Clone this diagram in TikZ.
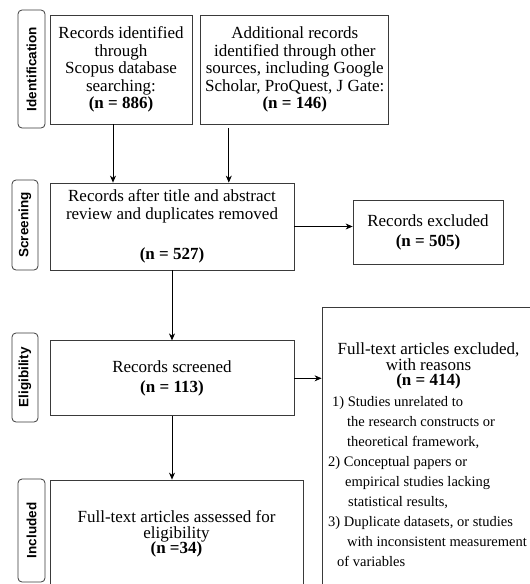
\documentclass[tikz,border=0pt]{standalone}
\usepackage{fontspec}
\setmainfont{Liberation Serif}
\newfontfamily\phasefamily{Liberation Sans}
\usetikzlibrary{arrows.meta, positioning, calc}
\definecolor{Black80}{HTML}{3A3A3A}

\begin{document}
\begin{tikzpicture}[x=1pt, y=-1pt,
    box/.style={
        draw=Black80, line width=0.8pt, align=center, inner sep=0pt,
        font=\fontsize{17}{17.5}\selectfont
    },
    phase/.style={
        draw=Black80, line width=0.8pt, rounded corners=4pt, rotate=90,
        inner sep=0pt, font=\phasefamily\bfseries\fontsize{13.5}{15}\selectfont
    },
    arr/.style={-{Stealth[length=7pt, width=6pt]}, line width=0.7pt},
    every node/.style={font=\fontsize{17}{17.5}\selectfont}
]
\useasboundingbox (0,0) rectangle (530,584);

% =============================================
% Phase labels (left column)
% =============================================
\node[phase, minimum width=118pt, minimum height=27pt] (phId) at (31.5,69) {Identification};
\node[phase, minimum width=90pt, minimum height=26pt] (phScr) at (25,225) {Screening};
\node[phase, minimum width=89pt, minimum height=26pt] (phElg) at (25,377.5) {Eligibility};
\node[phase, minimum width=103pt, minimum height=27pt] (phInc) at (31.5,530.5) {Included};

% =============================================
% Identification
% =============================================
\node[box, minimum width=142pt, minimum height=109pt] (id1) at (121,69.5)
    {Records identified\\through\\Scopus database\\searching:\\\textbf{(n = 886)}};
\node[box, minimum width=188pt, minimum height=109pt, right=8pt of id1] (id2)
    {Additional records\\identified through other\\sources, including Google\\Scholar, ProQuest, J Gate:\\\textbf{(n = 146)}};

% =============================================
% Screening
% =============================================
\node[box, minimum width=244pt, minimum height=87pt,
      font=\fontsize{17}{18}\selectfont] (scr) at (172,226.5)
    {Records after title and abstract\\review and duplicates removed\\[22pt]\textbf{(n = 527)}};
\node[box, minimum width=150pt, minimum height=64pt,
      font=\fontsize{17}{20}\selectfont] (exc) at (428,232)
    {Records excluded\\\textbf{(n = 505)}};

\draw[arr] ([xshift=-8pt]id1.south) -- ([xshift=-8pt]id1.south |- scr.north);
\draw[arr] ([xshift=-66pt, yshift=-4pt]id2.south) -- ([xshift=-66pt]id2.south |- scr.north);
\draw[arr] (scr.east) -- (scr.east -| exc.west);

% =============================================
% Eligibility
% =============================================
\node[box, minimum width=244pt, minimum height=75pt,
      font=\fontsize{17}{20}\selectfont, below=70pt of scr] (elg)
    {Records screened\\\textbf{(n = 113)}};

% excluded full texts (box runs off the page)
\node[box, minimum width=214pt, minimum height=293pt] (ftx) at (429,453.5) {};
\node[font=\fontsize{17}{15.5}\selectfont, align=center] (ftxhead) at (428.5,366)
    {Full-text articles excluded,\\with reasons\\\textbf{(n = 414)}};
\node[font=\fontsize{14.5}{20}\selectfont, align=left, anchor=west, inner sep=0pt] (ftxlist) at (328,482)
    {\hspace*{4pt}1) Studies unrelated to\\
     \hspace*{19pt}the research constructs or\\
     \hspace*{19pt}theoretical framework,\\
     2) Conceptual papers or\\
     \hspace*{17pt}empirical studies lacking\\
     \hspace*{20pt}statistical results,\\
     3) Duplicate datasets, or studies\\
     \hspace*{19pt}with inconsistent measurement\\
     \hspace*{9pt}of variables};

\draw[arr] (scr.south) -- (elg.north);
\draw[arr] (elg.east) -- (elg.east -| ftx.west);

% =============================================
% Included
% =============================================
\node[box, minimum width=253pt, minimum height=108pt,
      font=\fontsize{17}{15.5}\selectfont] (inc) at (176.5,534)
    {Full-text articles assessed for\\eligibility\\\textbf{(n =34)}};

\draw[arr] (elg.south) -- (elg.south |- inc.north);

\end{tikzpicture}
\end{document}
